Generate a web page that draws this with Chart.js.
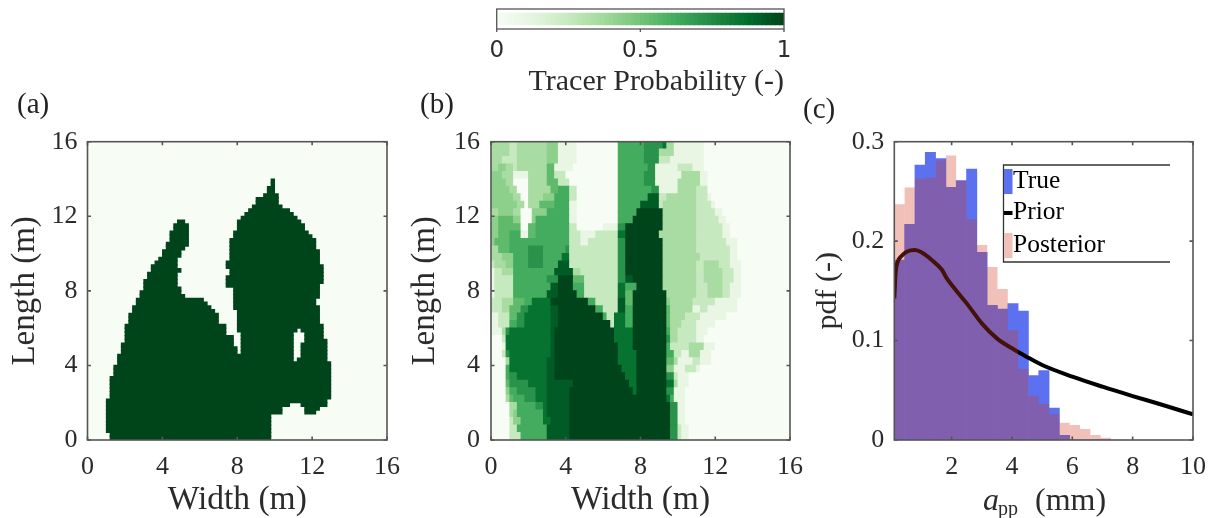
<!DOCTYPE html>
<html><head><meta charset="utf-8">
<style>
html,body{margin:0;padding:0;background:#fff;width:1211px;height:518px;overflow:hidden}
canvas{position:absolute;display:block;filter:blur(0.55px)}
</style>
<script src="https://cdn.jsdelivr.net/npm/chart.js@4/dist/chart.umd.min.js"></script>
</head><body>
<canvas id="cb" style="left:470px;top:0;width:340px;height:100px"></canvas>
<canvas id="pa" style="left:0;top:90px;width:400px;height:428px"></canvas>
<canvas id="pb" style="left:400px;top:90px;width:411px;height:428px"></canvas>
<canvas id="pc" style="left:800px;top:90px;width:411px;height:428px"></canvas>
<script>
// ---------- data ----------
const fieldTicks = [0,4,8,12,16];
const pdfXTicks = [2,4,6,8,10];
const pdfYTicks = [0,0.1,0.2,0.3];
const colorbarTicks = [0,0.5,1];
const cellSizeA = 0.2;   // m per cell, panel (a)
const cellSizeBx = 0.2;  // m per column, panel (b)
const cellSizeBy = 0.4;  // m per row, panel (b)

// panel (a): tracer present, spans of cells per row, bottom row first
const tracerTrue = [
[[6,49]],[[6,49]],[[5,49]],[[5,49]],[[5,49]],[[5,49]],[[5,49]],
[[5,52],[58,61]],[[5,52],[58,62]],[[5,54],[57,64]],[[5,64]],
[[6,65]],[[6,65]],[[6,65]],[[6,65]],[[6,65]],[[6,65]],
[[7,65]],[[7,65]],[[7,65]],[[8,65]],
[[8,55],[56,64]],[[8,55],[57,64]],
[[9,40],[41,55],[57,64]],[[9,40],[41,55],[57,64]],[[9,39],[41,55],[57,64]],
[[10,39],[41,55],[58,64]],[[10,39],[41,55],[58,63]],[[10,37],[41,55],[58,63]],
[[10,37],[40,56],[57,63]],[[10,37],[40,63]],
[[11,35],[40,62]],[[11,35],[40,62]],[[11,35],[40,62]],
[[12,34],[40,62]],[[12,33],[39,62]],[[13,32],[39,61]],[[13,31],[39,61]],
[[14,26],[39,62]],[[14,25],[39,62]],[[15,25],[39,62]],[[15,24],[37,62]],
[[15,24],[37,63]],[[16,24],[37,63]],[[16,24],[38,63]],[[17,25],[38,63]],
[[17,24],[37,63]],[[18,24],[37,62]],[[19,24],[38,62]],[[20,25],[38,62]],
[[20,25],[38,62]],[[21,26],[38,61]],[[21,27],[38,61]],[[22,27],[38,61]],
[[22,27],[39,60]],[[22,27],[39,59]],[[23,27],[40,58]],[[23,27],[40,58]],
[[24,26],[40,57]],[[41,56]],[[42,55]],[[43,54]],[[44,52]],[[45,51]],
[[45,51]],[[47,51]],[[48,50]],[[48,50]],[[49,50]],[[49,50]]
];

// panel (b): probability level and end column pairs per row, top row first
const levelProbability = [0,.1,.25,.35,.43,.55,.62,.72,.85,.93,1];
const tracerPosterior = [
[3,5,2,7,3,15,4,18,1,23,0,34,6,41,7,46,8,47,3,49,1,57,0,80],
[3,5,2,7,3,15,4,18,1,23,0,34,6,41,7,45,3,49,1,57,0,80],
[3,3,2,7,3,15,4,18,1,23,0,34,6,41,7,45,2,48,1,57,0,80],
[3,2,4,4,3,6,2,7,3,15,5,17,1,22,0,34,6,42,7,44,1,50,2,54,1,57,0,80],
[4,3,3,6,1,10,3,15,5,17,2,20,0,34,6,41,7,44,1,51,3,56,1,58,0,80],
[4,4,3,6,0,10,3,15,5,18,2,21,0,34,6,41,7,44,1,50,3,56,1,58,0,80],
[4,5,3,7,0,10,3,16,5,18,6,21,2,23,0,34,6,43,7,45,1,50,3,55,2,58,0,80],
[4,6,3,8,0,10,3,14,4,17,6,21,2,23,0,34,6,42,9,45,2,47,3,55,2,58,1,59,0,80],
[4,7,3,9,0,10,3,13,5,17,6,21,1,23,0,34,6,40,9,45,2,46,3,55,2,59,1,60,0,80],
[3,2,4,6,3,8,0,11,4,15,6,21,1,23,0,34,6,39,10,46,3,55,2,60,1,62,0,80],
[4,2,5,6,4,8,0,11,4,12,6,21,1,23,0,34,6,38,10,46,3,55,2,61,1,63,0,80],
[4,2,5,8,0,10,5,12,6,21,2,23,0,30,1,34,7,36,10,46,3,55,2,62,1,64,0,80],
[4,2,5,5,6,8,1,10,5,12,6,21,2,24,1,28,2,34,8,36,10,45,3,55,2,62,1,64,0,80],
[4,1,5,5,6,21,2,24,1,26,2,34,7,36,10,46,3,55,2,63,1,66,0,80],
[3,2,5,5,6,10,7,14,6,20,7,21,2,34,7,36,10,46,3,55,2,64,1,66,0,80],
[3,3,4,6,6,10,7,14,6,19,8,21,2,34,7,36,10,46,3,56,2,64,1,66,0,80],
[2,1,3,4,4,6,6,10,7,14,6,18,9,21,2,34,7,36,10,46,3,55,2,57,3,61,2,64,1,67,0,80],
[1,1,2,3,3,6,6,17,9,22,3,24,2,34,7,36,10,46,3,55,2,57,3,62,2,65,1,67,0,80],
[1,1,2,6,6,15,7,18,10,22,5,25,2,34,7,36,9,38,10,46,3,55,2,57,3,62,2,65,1,67,0,80],
[1,1,2,6,6,16,9,18,10,22,6,25,2,34,8,36,6,39,10,46,3,55,2,58,3,62,2,64,1,67,0,80],
[1,1,2,6,6,15,9,18,10,23,6,25,2,34,8,36,5,38,10,47,3,55,2,58,3,62,2,64,1,67,0,80],
[2,3,3,6,5,9,6,11,8,16,10,26,6,28,2,34,9,36,5,38,10,47,4,48,3,54,2,60,1,66,0,80],
[2,3,3,5,5,8,7,10,8,16,9,18,10,28,6,30,2,34,9,36,6,38,10,47,5,48,3,54,1,56,2,58,1,66,0,80],
[1,2,2,5,5,7,7,9,8,16,9,18,10,30,6,31,2,33,8,36,6,38,10,47,5,48,3,52,2,56,1,63,0,80],
[1,2,2,5,6,7,7,9,8,16,9,18,10,32,2,33,8,36,6,38,10,47,5,48,3,51,2,55,1,60,0,80],
[1,3,3,4,7,5,8,16,9,17,10,33,8,38,10,47,6,48,3,50,2,55,1,58,0,80],
[0,3,2,4,8,16,9,17,10,33,8,38,10,47,7,48,3,50,2,55,1,57,0,80],
[0,3,1,4,8,16,9,17,10,34,8,38,10,47,6,48,2,53,3,57,1,60,0,80],
[0,3,2,4,7,5,8,16,9,17,10,34,8,39,10,47,6,49,2,51,1,53,3,56,1,59,0,80],
[0,4,3,5,8,15,9,17,10,34,8,39,10,47,5,49,3,50,1,54,2,56,1,59,0,80],
[0,4,6,5,8,15,9,17,10,35,8,39,10,47,4,49,1,52,2,55,1,56,0,80],
[0,4,6,5,7,7,8,15,9,17,10,36,8,39,10,47,7,49,2,50,1,53,0,80],
[0,4,5,5,7,10,8,15,9,22,10,37,8,39,10,47,8,49,3,50,1,53,0,80],
[0,4,4,5,6,7,7,12,8,15,9,21,10,38,8,39,10,47,7,49,1,52,0,80],
[0,4,3,5,5,6,6,9,7,12,8,15,9,21,10,47,8,48,6,49,1,52,0,80],
[0,5,3,7,6,12,7,14,8,15,9,21,10,48,7,50,1,52,0,80],
[0,5,3,6,4,7,6,14,8,15,9,21,10,48,7,50,1,52,0,80],
[0,5,2,6,4,8,6,14,8,16,9,21,10,48,7,50,1,52,0,80],
[0,5,2,7,6,15,9,21,10,48,7,50,2,51,1,53,0,80],
[0,5,2,8,6,15,9,21,10,48,7,50,2,51,1,53,0,80]
];

// panel (c)
const binStart = 0.1, binWidth = 0.342;
const trueHist = [.181,.217,.2766,.2893,.2829,.254,.2608,.2725,.1887,.1354,.1317,.1371,.1297,.0647,.0697,.0322,.0047,0,0,0,0];
const posteriorHist = [.237,.254,.2628,.2641,.281,.286,.2608,.222,.196,.174,.1519,.1106,.0714,.0446,.0362,.0261,.0174,.015,.011,.005,.0023];
const priorX = [.1,.146,.21,.34,.51,.79,1,1.34,1.67,1.83,2.17,2.5,3,3.5,4,4.48,5,6,7,8,9,10];
const priorY = [.1425,.169,.179,.185,.1894,.191,.1887,.181,.1715,.163,.1495,.1374,.1173,.1022,.0922,.0838,.0754,.0637,.0536,.0442,.0352,.0258];

// ---------- helpers ----------
const SERIF = '"Liberation Serif", serif';
const INK = '#2b2b2b', FRAME = '#555555';
const greensStops = [[247,252,245],[229,245,224],[199,233,192],[161,217,155],[116,196,118],[65,171,93],[35,139,69],[0,109,44],[0,68,27]];
function greens(p){
  const t=Math.min(.99999,Math.max(0,p))*(greensStops.length-1), i=Math.floor(t), f=t-i;
  const a=greensStops[i], b=greensStops[i+1];
  return `rgb(${a.map((v,k)=>Math.round(v+(b[k]-v)*f)).join(',')})`;
}
Chart.defaults.animation=false;
Chart.defaults.responsive=false;
Chart.defaults.font.family=SERIF;
Chart.defaults.color=INK;

function sizeCanvas(id){const c=document.getElementById(id);c.width=parseInt(c.style.width);c.height=parseInt(c.style.height);return c;}

const frame=(label,labelX,labelY,bg)=>({
  id:'frame',
  beforeDatasetsDraw(chart){
    if(!bg)return;
    const a=chart.chartArea,c=chart.ctx;c.save();c.fillStyle=bg;c.fillRect(a.left,a.top,a.right-a.left,a.bottom-a.top);c.restore();
  },
  afterDatasetsDraw(chart){
    const a=chart.chartArea,c=chart.ctx,L=3.5;
    c.save();c.strokeStyle=FRAME;c.lineWidth=1.6;
    c.strokeRect(a.left,a.top,a.right-a.left,a.bottom-a.top);
    c.beginPath();
    chart.scales.x.ticks.forEach(t=>{const x=chart.scales.x.getPixelForValue(t.value);
      c.moveTo(x,a.bottom);c.lineTo(x,a.bottom-L);c.moveTo(x,a.top);c.lineTo(x,a.top+L);});
    chart.scales.y.ticks.forEach(t=>{const y=chart.scales.y.getPixelForValue(t.value);
      c.moveTo(a.left,y);c.lineTo(a.left+L,y);c.moveTo(a.right,y);c.lineTo(a.right-L,y);});
    c.stroke();
    c.fillStyle='#222';c.font='29px '+SERIF;c.textBaseline='alphabetic';c.textAlign='left';
    c.fillText(label,labelX,labelY);
    c.restore();
  }
});

function axis(min,max,ticks,fmt,fixed,title,titleFont,pad,titlePad){
  return {type:'linear',min,max,offset:false,
    grid:{display:false,drawTicks:false,offset:false},border:{display:false},
    afterBuildTicks(s){s.ticks=ticks.map(v=>({value:v}));},
    afterFit(s){
      if(s.isHorizontal()) s.height=fixed; else s.width=fixed;
      s.paddingLeft=s.paddingRight=s.paddingTop=s.paddingBottom=0;
    },
    ticks:{autoSkip:false,maxRotation:0,padding:pad,color:INK,font:{size:26,family:SERIF},callback:fmt},
    title:title?{display:true,text:title,color:INK,font:{size:titleFont,family:SERIF,lineHeight:1.05},padding:titlePad}:{display:false}
  };
}
const plain=v=>String(v);

// ---------- panel (a) ----------
const barsA=[];
tracerTrue.forEach((spans,r)=>spans.forEach(([s,e])=>barsA.push({x:[s*cellSizeA,e*cellSizeA],y:(r+.5)*cellSizeA})));
new Chart(sizeCanvas('pa'),{
  type:'bar',
  data:{datasets:[{label:'True tracer',data:barsA,backgroundColor:greens(1),barThickness:4.2,borderWidth:0}]},
  options:{indexAxis:'y',layout:{padding:{top:51.7,right:13,left:0,bottom:0}},
    plugins:{legend:{display:false},tooltip:{enabled:false}},
    scales:{x:axis(0,16,fieldTicks,plain,78,'Width (m)',33.5,12,{top:0,bottom:0}),
            y:axis(0,16,fieldTicks,plain,87.5,'Length (m)',33,10,{top:8.5,bottom:0})}},
  plugins:[frame('(a)',17,23,greens(0))]
});

// ---------- panel (b) ----------
const barsB=[],colsB=[];
tracerPosterior.forEach((row,t)=>{
  let start=0;
  for(let i=0;i<row.length;i+=2){
    barsB.push({x:[start*cellSizeBx,row[i+1]*cellSizeBx],y:16-(t+.5)*cellSizeBy});
    colsB.push(greens(levelProbability[row[i]]));
    start=row[i+1];
  }
});
new Chart(sizeCanvas('pb'),{
  type:'bar',
  data:{datasets:[{label:'Tracer probability',data:barsB,backgroundColor:colsB,barThickness:8,borderWidth:0}]},
  options:{indexAxis:'y',layout:{padding:{top:51.7,right:21,left:0,bottom:0}},
    plugins:{legend:{display:false},tooltip:{enabled:false}},
    scales:{x:axis(0,16,fieldTicks,plain,78,'Width (m)',33.5,12,{top:0,bottom:0}),
            y:axis(0,16,fieldTicks,plain,91,'Length (m)',33,11,{top:8.5,bottom:0})}},
  plugins:[frame('(b)',20,23,greens(0))]
});

// ---------- panel (c) ----------
const binCenters=trueHist.map((_,i)=>binStart+binWidth*(i+.5));
const xy=(xs,ys)=>xs.map((x,i)=>({x,y:ys[i]}));
const legendPlugin={
  id:'histLegend',
  afterDraw(chart){
    const c=chart.ctx,ds=chart.data.datasets;
    const L=203.5,R=370,T=75,B=172;
    c.save();
    c.fillStyle='#fff';c.fillRect(L,T,R-L,B-T);
    c.strokeStyle='#333';c.lineWidth=1.3;
    c.beginPath();c.moveTo(R,T);c.lineTo(L,T);c.lineTo(L,B);c.lineTo(R,B);c.stroke();
    c.fillStyle='#5c71f0';c.fillRect(204,79,8.5,25);
    c.fillStyle='#000';c.fillRect(204,121,8.5,4);
    c.fillStyle='#f0c0b9';c.fillRect(204,143,8.5,25);
    c.fillStyle='#000';c.font='25.5px '+SERIF;c.textBaseline='alphabetic';c.textAlign='left';
    c.fillText(ds[0].label,213,98);
    c.fillText(ds[1].label,213,129);
    c.fillText(ds[2].label,213,162);
    // axis title with subscript
    c.fillStyle=INK;
    c.font='italic 32px '+SERIF;c.fillText('a',183,420);
    c.font='20px '+SERIF;c.fillText('pp',198,425);
    c.font='32px '+SERIF;c.fillText('(mm)',235,420);
    c.restore();
  }
};
new Chart(sizeCanvas('pc'),{
  type:'bar',
  data:{datasets:[
    {type:'bar',label:'True',data:xy(binCenters,trueHist),backgroundColor:'#5c71f0',order:3,grouped:false,categoryPercentage:1,barPercentage:1,borderWidth:0},
    {type:'line',label:'Prior',data:xy(priorX,priorY),borderColor:'#000',borderWidth:4,pointRadius:0,cubicInterpolationMode:'monotone',order:2,fill:false},
    {type:'bar',label:'Posterior',data:xy(binCenters,posteriorHist),backgroundColor:'rgba(209,59,37,0.32)',order:1,grouped:false,categoryPercentage:1,barPercentage:1,inflateAmount:0,borderWidth:0}
  ]},
  options:{layout:{padding:{top:51.7,right:18,left:0,bottom:0}},
    plugins:{legend:{display:false},tooltip:{enabled:false}},
    scales:{
      x:axis(binStart,10,pdfXTicks,plain,78,null,0,12),
      y:axis(0,.3,pdfYTicks,plain,94.3,'pdf (-)',30,10,{top:12,bottom:0})
    }},
  plugins:[frame('(c)',3,28,null),legendPlugin]
});

// ---------- colour bar ----------
const barsCB=[],colsCB=[];
for(let i=0;i<64;i++){barsCB.push({x:[i/64,(i+1)/64],y:.5});colsCB.push(greens((i+.5)/64));}
new Chart(sizeCanvas('cb'),{
  type:'bar',
  data:{datasets:[{label:'Tracer Probability (-)',data:barsCB,backgroundColor:colsCB,barThickness:12,borderWidth:0}]},
  options:{indexAxis:'y',layout:{padding:{top:9,right:26,left:26.7,bottom:0}},
    plugins:{legend:{display:false},tooltip:{enabled:false}},
    scales:{
      x:(()=>{const a=axis(0,1,colorbarTicks,plain,71,'Tracer Probability (-)',30,8,{top:0,bottom:2});
        a.ticks.font={size:23,family:'"DejaVu Sans"'};a.title.align='end';return a;})(),
      y:{type:'linear',min:0,max:1,display:false,offset:false}
    }},
  plugins:[{id:'cbFrame',afterDatasetsDraw(chart){
    const a=chart.chartArea,c=chart.ctx;c.save();c.strokeStyle=FRAME;c.lineWidth=1.3;
    c.strokeRect(a.left,a.top,a.right-a.left,a.bottom-a.top);
    c.beginPath();chart.scales.x.ticks.forEach(t=>{const x=chart.scales.x.getPixelForValue(t.value);c.moveTo(x,a.bottom);c.lineTo(x,a.bottom+3);});c.stroke();c.restore();
  }}]
});
</script>
</body></html>
